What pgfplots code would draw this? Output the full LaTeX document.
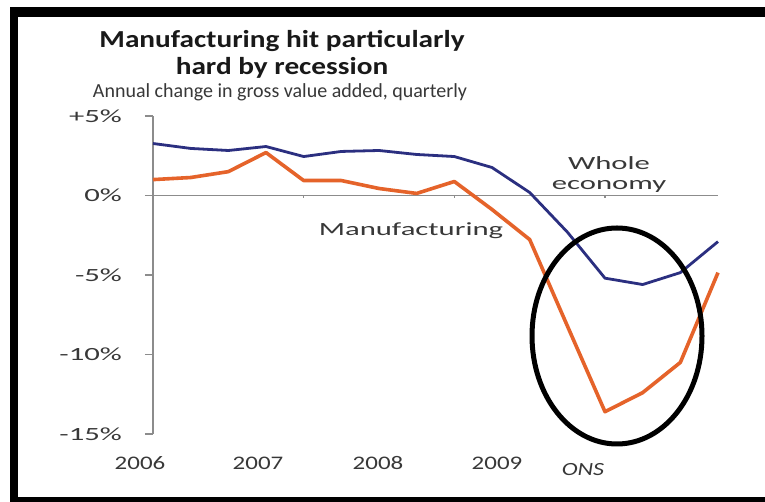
\documentclass[border=0pt]{standalone}
\usepackage{pgfplots}
\pgfplotsset{compat=1.18}
\usepackage{fontspec}
\setmainfont{Carlito}
\newfontfamily\labfont[FakeStretch=1.65]{Carlito}
\newfontfamily\yrfont[FakeStretch=1.3]{Carlito}
\newfontfamily\ttlfont[FakeStretch=1.2]{Carlito}
\definecolor{navyline}{HTML}{2B2F80}
\definecolor{orangeline}{HTML}{E5632A}
\definecolor{axgray}{HTML}{8C8C8C}
\definecolor{txtgray}{HTML}{383838}
\begin{document}
\begin{tikzpicture}
\path[use as bounding box] (0,0) rectangle (382.5pt,251pt);
\fill[white] (0,0) rectangle (382.5pt,251pt);
\begin{axis}[
  at={(76.5pt,34pt)}, anchor=south west,
  width=282.5pt, height=159pt, scale only axis,
  xmin=0, xmax=15, ymin=-15, ymax=5,
  axis y line=left, axis x line=middle,
  axis line style={axgray, line width=0.9pt, -},
  hide obscured x ticks=false, hide obscured y ticks=false,
  xtick=\empty,
  ytick={-15,-10,-5,0,5},
  yticklabels={-15\%,-10\%,-5\%,0\%,+5\%},
  tick align=outside,
  major tick length=4pt,
  y tick style={axgray, line width=0.8pt},
  yticklabel style={font=\labfont\fontsize{9.3}{10}\selectfont, text=txtgray, xshift=-8pt},
  clip=false,
]
\addplot[navyline, line width=1.4pt, line join=round] coordinates {
 (0,3.27) (1,2.96) (2,2.83) (3,3.08) (4,2.45) (5,2.77) (6,2.83) (7,2.58)
 (8,2.45) (9,1.76) (10,0.19) (11,-2.3) (12,-5.2) (13,-5.6) (14,-4.85) (15,-2.9)};
\addplot[orangeline, line width=1.8pt, line join=round] coordinates {
 (0,1.0) (1,1.13) (2,1.5) (3,2.7) (4,0.94) (5,0.94) (6,0.44) (7,0.13)
 (8,0.88) (9,-0.88) (10,-2.77) (11,-8.2) (12,-13.6) (13,-12.4) (14,-10.5) (15,-4.85)};
\draw[axgray, line width=0.6pt] (axis cs:4,0) -- ([yshift=-1.5pt]axis cs:4,0);
\draw[axgray, line width=0.6pt] (axis cs:8,0) -- ([yshift=-1.5pt]axis cs:8,0);
\draw[axgray, line width=0.6pt] (axis cs:12,0) -- ([yshift=-1.5pt]axis cs:12,0);
\end{axis}
\begin{scope}[x=0.5pt,y=0.5pt]
\fill[black] (10,0) rectangle (18,495);
\fill[black] (10,485) rectangle (765,495);
\fill[black] (10,0) rectangle (765,5);
\draw[black, line width=2.5pt] (617,166) ellipse [x radius=85, y radius=108];
\node[font=\ttlfont\bfseries\fontsize{12.2}{13}\selectfont, text=black!90, anchor=base, inner sep=0pt] at (282,454) {Manufacturing hit particularly};
\node[font=\ttlfont\bfseries\fontsize{12.2}{13}\selectfont, text=black!90, anchor=base, inner sep=0pt] at (282,427) {hard by recession};
\node[font=\fontsize{10}{11}\selectfont, text=txtgray, anchor=base, inner sep=0pt] at (280,404) {Annual change in gross value added, quarterly};
\node[font=\yrfont\fontsize{9.6}{10}\selectfont, text=txtgray, anchor=base, inner sep=0pt] at (140,32) {2006};
\node[font=\yrfont\fontsize{9.6}{10}\selectfont, text=txtgray, anchor=base, inner sep=0pt] at (258,32) {2007};
\node[font=\yrfont\fontsize{9.6}{10}\selectfont, text=txtgray, anchor=base, inner sep=0pt] at (378,32) {2008};
\node[font=\yrfont\fontsize{9.6}{10}\selectfont, text=txtgray, anchor=base, inner sep=0pt] at (497,32) {2009};
\node[font=\yrfont\itshape\fontsize{9.3}{10}\selectfont, text=txtgray, anchor=base, inner sep=0pt] at (583,26) {ONS};
\node[font=\labfont\fontsize{9.3}{10}\selectfont, text=txtgray, anchor=base, inner sep=0pt] at (609,332) {Whole};
\node[font=\labfont\fontsize{9.3}{10}\selectfont, text=txtgray, anchor=base, inner sep=0pt] at (609,312) {economy};
\node[font=\labfont\fontsize{9.3}{10}\selectfont, text=txtgray, anchor=base, inner sep=0pt] at (411,266) {Manufacturing};
\end{scope}
\end{tikzpicture}
\end{document}
